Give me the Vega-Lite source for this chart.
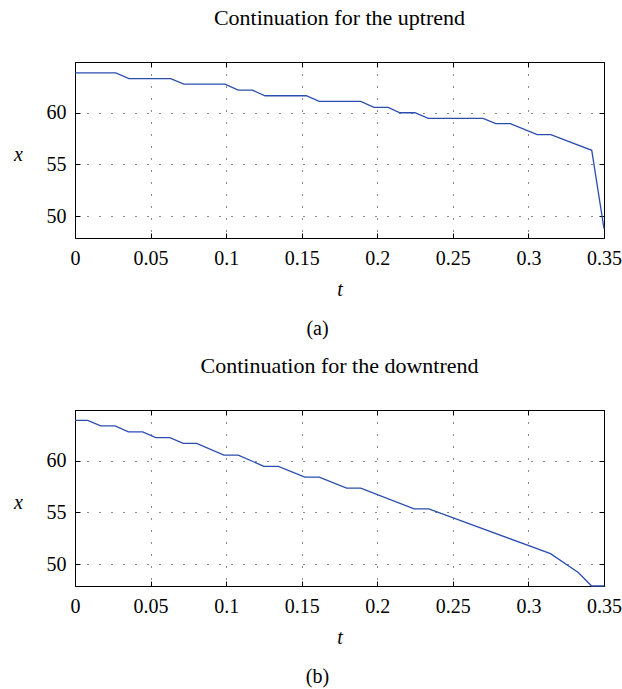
{
  "$schema": "https://vega.github.io/schema/vega-lite/v6.json",
  "padding": {"left": 13, "top": 6, "right": 2, "bottom": 2},
  "background": "white",
  "datasets": {
    "a": [
      {"t": 0, "x": 63.85}, {"t": 0.027, "x": 63.85}, {"t": 0.0357, "x": 63.3}, {"t": 0.0633, "x": 63.3},
      {"t": 0.072, "x": 62.76}, {"t": 0.0992, "x": 62.76}, {"t": 0.108, "x": 62.18}, {"t": 0.1173, "x": 62.18},
      {"t": 0.1257, "x": 61.64}, {"t": 0.153, "x": 61.64}, {"t": 0.1616, "x": 61.09}, {"t": 0.189, "x": 61.09},
      {"t": 0.1978, "x": 60.51}, {"t": 0.2072, "x": 60.51}, {"t": 0.215, "x": 60.0}, {"t": 0.2249, "x": 60.0},
      {"t": 0.2337, "x": 59.45}, {"t": 0.27, "x": 59.45}, {"t": 0.2784, "x": 58.94}, {"t": 0.288, "x": 58.94},
      {"t": 0.3058, "x": 57.88}, {"t": 0.3148, "x": 57.88}, {"t": 0.3419, "x": 56.37}, {"t": 0.35, "x": 48.8}
    ],
    "b": [
      {"t": 0, "x": 63.9}, {"t": 0.0084, "x": 63.9}, {"t": 0.017, "x": 63.36}, {"t": 0.0265, "x": 63.36},
      {"t": 0.0353, "x": 62.78}, {"t": 0.0448, "x": 62.78}, {"t": 0.0534, "x": 62.23}, {"t": 0.0628, "x": 62.23},
      {"t": 0.0716, "x": 61.68}, {"t": 0.0805, "x": 61.68}, {"t": 0.0985, "x": 60.55}, {"t": 0.108, "x": 60.55},
      {"t": 0.125, "x": 59.45}, {"t": 0.1345, "x": 59.45}, {"t": 0.1521, "x": 58.42}, {"t": 0.1616, "x": 58.42},
      {"t": 0.1797, "x": 57.35}, {"t": 0.189, "x": 57.35}, {"t": 0.2244, "x": 55.35}, {"t": 0.2341, "x": 55.35},
      {"t": 0.3146, "x": 51.03}, {"t": 0.333, "x": 49.2}, {"t": 0.3418, "x": 47.9}, {"t": 0.35, "x": 47.9}
    ]
  },
  "config": {
    "view": {"stroke": "black", "strokeWidth": 1},
    "font": "Liberation Serif",
    "title": {"font": "Liberation Serif", "fontSize": 22, "fontWeight": "normal", "color": "black"},
    "axis": {
      "labelFont": "Liberation Serif", "labelFontSize": 20, "labelColor": "black",
      "titleFont": "Liberation Serif", "titleFontSize": 20, "titleFontWeight": "normal", "titleFontStyle": "italic", "titleColor": "black",
      "domain": false, "tickColor": "black", "tickSize": -5, "tickWidth": 1,
      "gridColor": "black", "gridDash": [1, 11], "gridWidth": 1, "gridOpacity": 0.9
    },
    "concat": {"spacing": 15}
  },
  "vconcat": [
    {
      "title": {"text": "(a)", "orient": "bottom", "anchor": "middle", "offset": 19, "fontSize": 20},
      "vconcat": [
        {
          "title": {"text": "Continuation for the uptrend", "offset": 32},
          "width": 529, "height": 176,
          "data": {"name": "a"},
          "layer": [
            {
              "mark": {"type": "line", "color": "#2B4DB0", "strokeWidth": 1.3},
              "encoding": {
                "x": {"field": "t", "type": "quantitative", "scale": {"domain": [0, 0.35], "nice": false, "zero": false},
                      "axis": {"values": [0, 0.05, 0.1, 0.15, 0.2, 0.25, 0.3, 0.35], "format": "~g", "labelFlush": false, "labelPadding": 15, "grid": true, "title": "t", "titlePadding": 11}},
                "y": {"field": "x", "type": "quantitative", "scale": {"domain": [47.9, 64.9], "nice": false, "zero": false},
                      "axis": {"values": [50, 55, 60], "labelPadding": 14, "grid": true, "title": "x", "titleAngle": 0, "titleX": -57, "titleY": 92, "titleAlign": "center", "titleBaseline": "middle"}}
              }
            },
            {
              "mark": {"type": "line", "opacity": 0},
              "encoding": {
                "x": {"field": "t", "type": "quantitative", "scale": {"domain": [0, 0.35], "nice": false, "zero": false},
                      "axis": {"orient": "top", "values": [0, 0.05, 0.1, 0.15, 0.2, 0.25, 0.3, 0.35], "labels": false, "grid": false, "title": null}},
                "y": {"field": "x", "type": "quantitative", "scale": {"domain": [47.9, 64.9], "nice": false, "zero": false},
                      "axis": {"orient": "right", "values": [50, 55, 60], "labels": false, "grid": false, "title": null}}
              }
            }
          ],
          "resolve": {"scale": {"x": "independent", "y": "independent"}}
        }
      ]
    },
    {
      "title": {"text": "(b)", "orient": "bottom", "anchor": "middle", "offset": 19, "fontSize": 20},
      "vconcat": [
        {
          "title": {"text": "Continuation for the downtrend", "offset": 32},
          "width": 529, "height": 176,
          "data": {"name": "b"},
          "layer": [
            {
              "mark": {"type": "line", "color": "#2B4DB0", "strokeWidth": 1.3},
              "encoding": {
                "x": {"field": "t", "type": "quantitative", "scale": {"domain": [0, 0.35], "nice": false, "zero": false},
                      "axis": {"values": [0, 0.05, 0.1, 0.15, 0.2, 0.25, 0.3, 0.35], "format": "~g", "labelFlush": false, "labelPadding": 15, "grid": true, "title": "t", "titlePadding": 11}},
                "y": {"field": "x", "type": "quantitative", "scale": {"domain": [47.9, 64.9], "nice": false, "zero": false},
                      "axis": {"values": [50, 55, 60], "labelPadding": 14, "grid": true, "title": "x", "titleAngle": 0, "titleX": -57, "titleY": 92, "titleAlign": "center", "titleBaseline": "middle"}}
              }
            },
            {
              "mark": {"type": "line", "opacity": 0},
              "encoding": {
                "x": {"field": "t", "type": "quantitative", "scale": {"domain": [0, 0.35], "nice": false, "zero": false},
                      "axis": {"orient": "top", "values": [0, 0.05, 0.1, 0.15, 0.2, 0.25, 0.3, 0.35], "labels": false, "grid": false, "title": null}},
                "y": {"field": "x", "type": "quantitative", "scale": {"domain": [47.9, 64.9], "nice": false, "zero": false},
                      "axis": {"orient": "right", "values": [50, 55, 60], "labels": false, "grid": false, "title": null}}
              }
            }
          ],
          "resolve": {"scale": {"x": "independent", "y": "independent"}}
        }
      ]
    }
  ]
}
